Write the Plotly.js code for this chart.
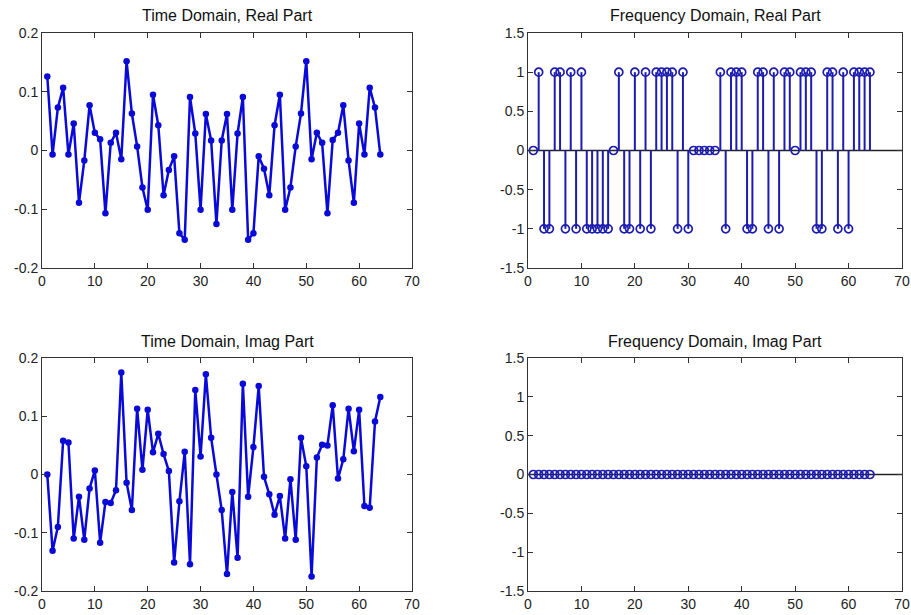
<!DOCTYPE html>
<html>
<head>
<meta charset="utf-8">
<script src="https://cdn.plot.ly/plotly-3.0.1.min.js"></script>
<style>
  html, body { margin: 0; padding: 0; background: #ffffff; }
  #chart { width: 911px; height: 615px; }
</style>
</head>
<body>
<div id="chart"></div>
<script>
// ---- data ----
const sampleIndex = Array.from({length: 64}, (_, i) => i + 1);

const timeReal = [
  0.126, -0.007, 0.073, 0.107, -0.007, 0.046, -0.089, -0.017, 0.077, 0.030,
  0.019, -0.107, 0.013, 0.030, -0.015, 0.152, 0.063, 0.007, -0.063, -0.101,
  0.095, 0.043, -0.076, -0.033, -0.010, -0.141, -0.152, 0.091, 0.029, -0.101,
  0.062, 0.017, -0.125, 0.017, 0.062, -0.101, 0.029, 0.091, -0.152, -0.141,
  -0.010, -0.031, -0.076, 0.043, 0.095, -0.101, -0.063, 0.007, 0.063, 0.152,
  -0.015, 0.030, 0.013, -0.107, 0.018, 0.030, 0.077, -0.017, -0.089, 0.046,
  -0.007, 0.107, 0.073, -0.007
];

const timeImag = [
  0.000, -0.131, -0.090, 0.058, 0.055, -0.110, -0.038, -0.112, -0.024, 0.007,
  -0.117, -0.047, -0.049, -0.027, 0.175, -0.014, -0.061, 0.113, 0.008, 0.111,
  0.038, 0.070, 0.035, 0.006, -0.151, -0.046, 0.039, -0.154, 0.145, 0.031,
  0.172, 0.063, 0.000, -0.061, -0.171, -0.030, -0.143, 0.156, -0.038, 0.047,
  0.152, -0.004, -0.034, -0.069, -0.037, -0.110, -0.008, -0.112, 0.063, 0.014,
  -0.175, 0.029, 0.051, 0.050, 0.119, -0.007, 0.026, 0.113, 0.040, 0.111,
  -0.054, -0.057, 0.091, 0.133
];

const freqReal = [
  0, 1, -1, -1, 1, 1, -1, 1, -1, 1,
  -1, -1, -1, -1, -1, 0, 1, -1, -1, 1,
  -1, 1, -1, 1, 1, 1, 1, -1, 1, -1,
  0, 0, 0, 0, 0, 1, -1, 1, 1, 1,
  -1, -1, 1, 1, -1, 1, -1, 1, 1, 0,
  1, 1, 1, -1, -1, 1, 1, -1, 1, -1,
  1, 1, 1, 1
];

const freqImag = [
  0, 0, 0, 0, 0, 0, 0, 0, 0, 0,
  0, 0, 0, 0, 0, 0, 0, 0, 0, 0,
  0, 0, 0, 0, 0, 0, 0, 0, 0, 0,
  0, 0, 0, 0, 0, 0, 0, 0, 0, 0,
  0, 0, 0, 0, 0, 0, 0, 0, 0, 0,
  0, 0, 0, 0, 0, 0, 0, 0, 0, 0,
  0, 0, 0, 0
];

const titles = [
  'Time Domain, Real Part',
  'Frequency Domain, Real Part',
  'Time Domain, Imag Part',
  'Frequency Domain, Imag Part'
];

const xTickVals = [0, 10, 20, 30, 40, 50, 60, 70];
const xTickText = ['0', '10', '20', '30', '40', '50', '60', '70'];
const timeTickVals = [-0.2, -0.1, 0, 0.1, 0.2];
const timeTickText = ['-0.2', '-0.1', '0', '0.1', '0.2'];
const freqTickVals = [-1.5, -1, -0.5, 0, 0.5, 1, 1.5];
const freqTickText = ['-1.5', '-1', '-0.5', '0', '0.5', '1', '1.5'];

// ---- styles ----
const lineBlue = '#0a0ad8';
const stemBlue = '#1c1cb0';
const FONT = '"Liberation Sans", Arial, Helvetica, sans-serif';

function timeTrace(y, xa, ya) {
  return {
    type: 'scatter', mode: 'lines+markers',
    x: sampleIndex, y: y, xaxis: xa, yaxis: ya,
    line: {color: lineBlue, width: 2.5},
    marker: {color: lineBlue, size: 6.5},
    hoverinfo: 'x+y', showlegend: false, cliponaxis: false
  };
}

function stemTraces(y, xa, ya) {
  const sx = [], sy = [];
  sampleIndex.forEach((n, i) => { sx.push(n, n, null); sy.push(0, y[i], null); });
  return [
    {
      type: 'scatter', mode: 'lines', x: sx, y: sy, xaxis: xa, yaxis: ya,
      line: {color: stemBlue, width: 2}, hoverinfo: 'skip', showlegend: false
    },
    {
      type: 'scatter', mode: 'markers', x: sampleIndex, y: y, xaxis: xa, yaxis: ya,
      marker: {symbol: 'circle-open', color: stemBlue, size: 8, line: {width: 1.7, color: stemBlue}},
      showlegend: false, cliponaxis: false
    }
  ];
}

const data = [
  timeTrace(timeReal, 'x', 'y'),
  ...stemTraces(freqReal, 'x2', 'y2'),
  timeTrace(timeImag, 'x3', 'y3'),
  ...stemTraces(freqImag, 'x4', 'y4')
];

// ---- layout ----
const W = 911, H = 615;
const colL = [42 / W, 412 / W];
const colR = [528 / W, 902 / W];
const rowT = [(H - 268) / H, (H - 33) / H];
const rowB = [(H - 591) / H, (H - 358) / H];

function xAxis(domain, anchor) {
  return {
    domain: domain, anchor: anchor, range: [0, 70],
    tickvals: xTickVals, ticktext: xTickText,
    ticks: 'inside', ticklen: 5, tickwidth: 1, tickcolor: '#333',
    showline: true, linecolor: '#333', linewidth: 1, mirror: 'ticks',
    showgrid: false, zeroline: false, fixedrange: true,
    tickfont: {family: FONT, size: 14, color: '#222'}
  };
}
function yAxis(domain, anchor, range, vals, text) {
  return {
    domain: domain, anchor: anchor, range: range,
    tickvals: vals, ticktext: text,
    ticks: 'inside', ticklen: 5, tickwidth: 1, tickcolor: '#333',
    showline: true, linecolor: '#333', linewidth: 1, mirror: 'ticks',
    showgrid: false, zeroline: false, fixedrange: true,
    tickfont: {family: FONT, size: 14, color: '#222'}
  };
}

const titleAnn = (text, dom, y) => ({
  text: text, xref: 'paper', yref: 'paper',
  x: (dom[0] + dom[1]) / 2, y: y, xanchor: 'center', yanchor: 'middle',
  showarrow: false, font: {family: FONT, size: 16, color: '#111'}
});

const layout = {
  width: W, height: H,
  margin: {l: 0, r: 0, t: 0, b: 0},
  paper_bgcolor: '#ffffff', plot_bgcolor: '#ffffff',
  showlegend: false,
  xaxis: xAxis(colL, 'y'),
  yaxis: yAxis(rowT, 'x', [-0.2, 0.2], timeTickVals, timeTickText),
  xaxis2: xAxis(colR, 'y2'),
  yaxis2: yAxis(rowT, 'x2', [-1.5, 1.5], freqTickVals, freqTickText),
  xaxis3: xAxis(colL, 'y3'),
  yaxis3: yAxis(rowB, 'x3', [-0.2, 0.2], timeTickVals, timeTickText),
  xaxis4: xAxis(colR, 'y4'),
  yaxis4: yAxis(rowB, 'x4', [-1.5, 1.5], freqTickVals, freqTickText),
  shapes: [
    {type: 'line', xref: 'x2 domain', yref: 'y2', x0: 0, x1: 1, y0: 0, y1: 0,
     line: {color: '#222', width: 1.5}, layer: 'below'},
    {type: 'line', xref: 'x4 domain', yref: 'y4', x0: 0, x1: 1, y0: 0, y1: 0,
     line: {color: '#222', width: 1.5}, layer: 'below'}
  ],
  annotations: [
    titleAnn(titles[0], colL, (H - 15) / H),
    titleAnn(titles[1], colR, (H - 15) / H),
    titleAnn(titles[2], colL, (H - 341) / H),
    titleAnn(titles[3], colR, (H - 341) / H)
  ]
};

Plotly.newPlot('chart', data, layout, {displayModeBar: false, staticPlot: true});
</script>
</body>
</html>
